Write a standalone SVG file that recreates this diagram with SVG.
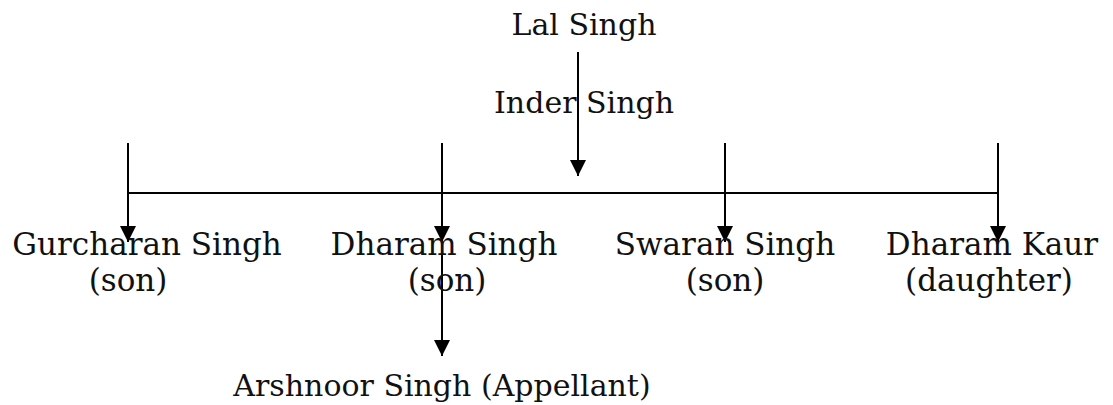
<svg xmlns="http://www.w3.org/2000/svg" width="1113" height="405" viewBox="0 0 1113 405">
<style>
text{font-family:"DejaVu Serif","Liberation Serif",serif;font-size:31px;fill:#111;text-anchor:middle}
text.s{font-size:30px}
.c line{stroke:#000;stroke-width:2}
</style>
<defs>
<marker id="ah" markerUnits="userSpaceOnUse" markerWidth="17" markerHeight="17" viewBox="0 0 17 17" refX="16" refY="8.5" orient="auto">
<path d="M0,0.5 L16,8.5 L0,16.5 Z" fill="#000"/>
</marker>
</defs>
<rect width="1113" height="405" fill="#fff"/>
<g class="c" id="connectors">
<line x1="578" y1="52" x2="578" y2="176" marker-end="url(#ah)"/>
<line x1="128" y1="193" x2="998" y2="193"/>
<line x1="128" y1="143" x2="128" y2="242" marker-end="url(#ah)"/>
<line x1="442" y1="143" x2="442" y2="242" marker-end="url(#ah)"/>
<line x1="442" y1="242" x2="442" y2="356" marker-end="url(#ah)"/>
<line x1="725" y1="143" x2="725" y2="242" marker-end="url(#ah)"/>
<line x1="998" y1="143" x2="998" y2="242" marker-end="url(#ah)"/>
</g>
<g id="lal"><text class="s" x="584" y="35">Lal Singh</text></g>
<g id="inder"><text class="s" x="584" y="113">Inder Singh</text></g>
<g id="gurcharan"><text x="147" y="255">Gurcharan Singh</text><text x="128" y="291">(son)</text></g>
<g id="dharam"><text x="444" y="255">Dharam Singh</text><text x="447" y="291">(son)</text></g>
<g id="swaran"><text x="725" y="255">Swaran Singh</text><text x="725" y="291">(son)</text></g>
<g id="kaur"><text x="992" y="255">Dharam Kaur</text><text x="989" y="291">(daughter)</text></g>
<g id="arshnoor"><text class="s" x="442" y="396">Arshnoor Singh (Appellant)</text></g>
</svg>
